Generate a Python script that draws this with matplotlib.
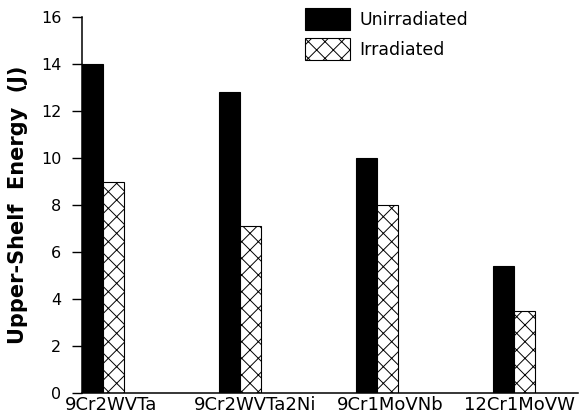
import numpy as np
import matplotlib
matplotlib.use('Agg')
import matplotlib.pyplot as plt

plt.rcParams['font.family'] = ['DejaVu Sans']
plt.rcParams['hatch.linewidth'] = 0.7

steels = ['9Cr2WVTa', '9Cr2WVTa2Ni', '9Cr1MoVNb', '12Cr1MoVW']
unirradiated = [14.0, 12.8, 10.0, 5.4]
irradiated = [9.0, 7.1, 8.0, 3.5]

# where the labels sit under each group in the original figure
label_pos = [0.06, 1.11, 2.10, 3.04]

ind = np.arange(len(steels))
width = 0.153

fig = plt.figure(figsize=(5.8, 4.18), dpi=100)
ax = fig.add_axes([0.1414, 0.0598, 0.855, 0.8995])

b1 = ax.bar(ind - width / 2, unirradiated, width, color='black',
            edgecolor='black', linewidth=0.8)
b2 = ax.bar(ind + width / 2, irradiated, width, color='white',
            edgecolor='black', hatch='xx', linewidth=0.8)

ax.set_xticks(label_pos)
ax.set_xticklabels(steels, fontsize=13)
ax.set_xlim(-width, 3.47)
ax.set_ylim(0, 16)
ax.set_yticks(np.arange(0, 17, 2))
ax.tick_params(axis='x', length=0, pad=2)
ax.tick_params(axis='y', length=7, width=1, labelsize=11.5, pad=8)

ax.spines['top'].set_visible(False)
ax.spines['right'].set_visible(False)
ax.spines['left'].set_linewidth(1.1)
ax.spines['bottom'].set_linewidth(1.1)

ax.set_ylabel('Upper-Shelf  Energy  (J)', fontsize=15, fontweight='bold')
ax.yaxis.set_label_coords(-0.109, 0.5)

leg = fig.legend((b1, b2), ('Unirradiated', 'Irradiated'),
                 loc='upper left', bbox_to_anchor=(305 / 580, 1 - 8 / 418),
                 bbox_transform=fig.transFigure,
                 frameon=False, fontsize=12.5, handlelength=2.6,
                 handleheight=1.6, handletextpad=0.52, labelspacing=0.45,
                 borderpad=0, borderaxespad=0)

plt.savefig('out.png', dpi=100)
